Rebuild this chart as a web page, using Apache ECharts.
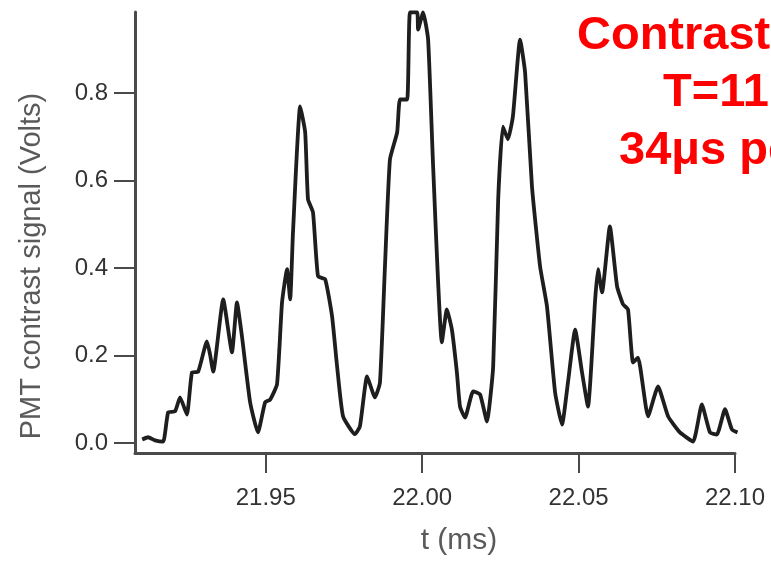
<!DOCTYPE html>
<html>
<head>
<meta charset="utf-8">
<script src="https://cdn.jsdelivr.net/npm/echarts@6/dist/echarts.min.js"></script>
<style>
html,body{margin:0;padding:0;background:#fff;}
#chart{width:771px;height:562px;}
</style>
</head>
<body>
<div id="chart"></div>
<script>
// time (ms)
var timeMs = [21.9105,21.9124,21.9146,21.9172,21.9188,21.9210,21.9226,21.9248,21.9264,21.9284,
21.9312,21.9322,21.9332,21.9364,21.9392,21.9408,21.9424,21.9450,21.9475,21.9498,
21.9514,21.9536,21.9552,21.9568,21.9578,21.9587,21.9610,21.9626,21.9635,21.9651,
21.9667,21.9690,21.9712,21.9728,21.9747,21.9785,21.9801,21.9824,21.9849,21.9865,
21.9881,21.9897,21.9920,21.9929,21.9952,21.9961,21.9984,21.9987,22.0003,22.0019,
22.0035,22.0063,22.0079,22.0095,22.0111,22.0121,22.0137,22.0163,22.0185,22.0207,
22.0227,22.0243,22.0258,22.0274,22.0290,22.0313,22.0329,22.0351,22.0377,22.0399,
22.0425,22.0447,22.0466,22.0489,22.0511,22.0530,22.0553,22.0562,22.0575,22.0600,
22.0623,22.0642,22.0658,22.0674,22.0690,22.0722,22.0754,22.0786,22.0824,22.0866,
22.0894,22.0920,22.0942,22.0968,22.0990,22.1008];
// PMT contrast signal (Volts)
var signal = [0.008,0.013,0.006,0.003,0.070,0.072,0.104,0.065,0.161,0.163,
0.232,0.202,0.163,0.328,0.207,0.321,0.243,0.093,0.024,0.093,
0.099,0.134,0.321,0.397,0.328,0.481,0.769,0.710,0.557,0.527,
0.381,0.374,0.289,0.175,0.061,0.020,0.038,0.152,0.104,0.138,
0.403,0.648,0.710,0.785,0.785,0.984,0.984,0.945,0.984,0.922,
0.632,0.230,0.305,0.259,0.161,0.083,0.058,0.118,0.111,0.049,
0.175,0.557,0.723,0.694,0.746,0.922,0.847,0.586,0.403,0.312,
0.115,0.042,0.138,0.259,0.161,0.083,0.328,0.397,0.344,0.495,
0.358,0.317,0.305,0.184,0.195,0.061,0.129,0.061,0.024,0.003,
0.088,0.024,0.019,0.077,0.031,0.024];
var xTicks = [21.95, 22.00, 22.05, 22.10];
var yTicks = [0.0, 0.2, 0.4, 0.6, 0.8];
var annotationLines = ['Contrast', 'T=11', '34\u03bcs pe'];

var seriesData = timeMs.map(function (t, i) { return [t, signal[i]]; });

var chart = echarts.init(document.getElementById('chart'), null, {renderer: 'canvas'});
var axisColor = '#4a4a4a';
chart.setOption({
  backgroundColor: '#ffffff',
  animation: false,
  grid: {left: 135, right: 36, top: 12, bottom: 109, containLabel: false},
  xAxis: {
    type: 'value', min: 21.9082, max: 22.10,
    axisLine: {onZero: false, lineStyle: {color: axisColor, width: 3}},
    axisTick: {show: true, inside: false, length: 20, customValues: xTicks, lineStyle: {color: axisColor, width: 2}},
    axisLabel: {customValues: xTicks, margin: 33, fontSize: 24, color: '#333',
      fontFamily: 'Liberation Sans', formatter: function (v) { return v.toFixed(2); }},
    splitLine: {show: false}
  },
  yAxis: {
    type: 'value', min: -0.023, max: 0.985,
    axisLine: {show: true, onZero: false, lineStyle: {color: axisColor, width: 3}},
    axisTick: {show: true, inside: false, length: 21, customValues: yTicks, lineStyle: {color: axisColor, width: 2}},
    axisLabel: {customValues: yTicks, margin: 27, fontSize: 24, color: '#333',
      fontFamily: 'Liberation Sans', formatter: function (v) { return v.toFixed(1); }},
    splitLine: {show: false}
  },
  series: [{
    type: 'line', data: seriesData, showSymbol: false, symbol: 'none', smooth: 0.15, clip: false,
    lineStyle: {color: '#1e1e1e', width: 3.8}
  }],
  graphic: [
    {type: 'text', x: 32, y: 266, rotation: Math.PI / 2,
      style: {text: 'PMT contrast signal (Volts)', fontSize: 29, fontFamily: 'Liberation Sans',
        fill: '#5a5a5a', align: 'center', verticalAlign: 'middle'}},
    {type: 'text', x: 459, y: 541,
      style: {text: 't (ms)', fontSize: 30, fontFamily: 'Liberation Sans',
        fill: '#5a5a5a', align: 'center', verticalAlign: 'middle'}},
    {type: 'text', x: 577, y: 36,
      style: {text: annotationLines[0], fontSize: 47, fontWeight: 'bold', fontFamily: 'Liberation Sans',
        fill: '#ff0000', align: 'left', verticalAlign: 'middle'}},
    {type: 'text', x: 663, y: 93,
      style: {text: annotationLines[1], fontSize: 47, fontWeight: 'bold', fontFamily: 'Liberation Sans',
        fill: '#ff0000', align: 'left', verticalAlign: 'middle'}},
    {type: 'text', x: 619, y: 151,
      style: {text: annotationLines[2], fontSize: 47, fontWeight: 'bold', fontFamily: 'Liberation Sans',
        fill: '#ff0000', align: 'left', verticalAlign: 'middle'}}
  ]
});
</script>
</body>
</html>
